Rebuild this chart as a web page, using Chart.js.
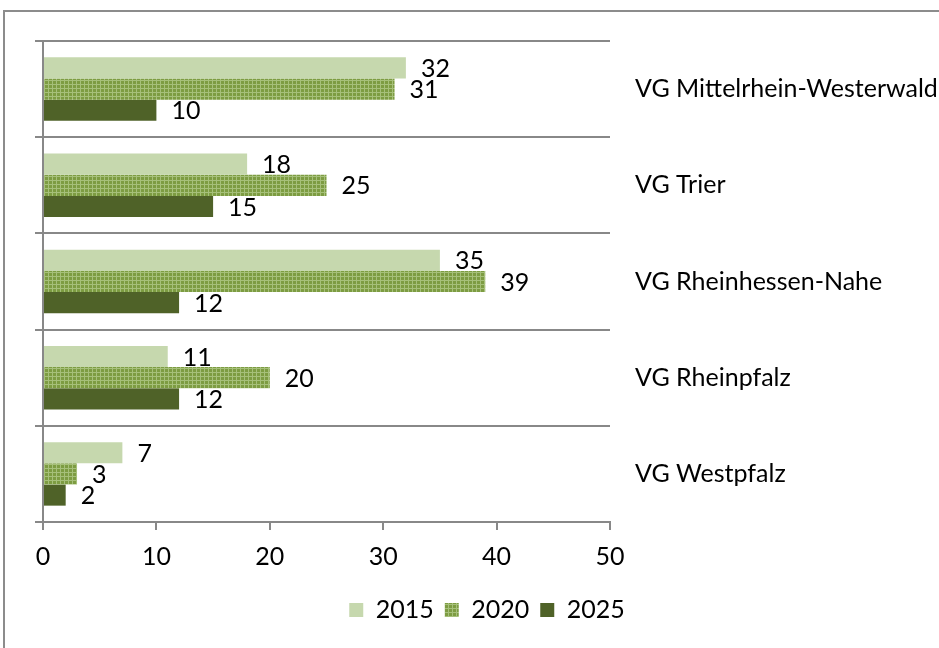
<!DOCTYPE html>
<html>
<head>
<meta charset="utf-8">
<script src="https://cdn.jsdelivr.net/npm/chart.js@4"></script>
<style>
html, body { margin: 0; padding: 0; background: #fff; overflow: hidden; }
#frame { position: absolute; left: 3px; top: 10px; width: 1000px; height: 700px;
         border-left: 2px solid #8c8c8c; border-top: 2px solid #8c8c8c; }
#wrap { position: absolute; left: 0; top: 0; width: 939px; height: 648px; }
</style>
</head>
<body>
<div id="frame"></div>
<div id="wrap"><canvas id="myChart"></canvas></div>
<script>
const regions = ['VG Mittelrhein-Westerwald', 'VG Trier', 'VG Rheinhessen-Nahe', 'VG Rheinpfalz', 'VG Westpfalz'];
const v2015 = [32, 18, 35, 11, 7];
const v2020 = [31, 25, 39, 20, 3];
const v2025 = [10, 15, 12, 12, 2];
const xMin = 0, xMax = 50, xStep = 10;

// dotted green fill for 2020
function makePattern() {
    const c = document.createElement('canvas');
    c.width = 4; c.height = 4;
    const g = c.getContext('2d');
    g.fillStyle = '#7d9c42';
    g.fillRect(0, 0, 4, 4);
    g.fillStyle = '#a6c07a';
    g.fillRect(0, 0, 4, 1);
    g.fillRect(0, 0, 1, 4);
    return g.createPattern(c, 'repeat');
}

const valueLabels = {
    id: 'valueLabels',
    afterDatasetsDraw(chart) {
        const ctx = chart.ctx;
        ctx.save();
        ctx.font = '25px Lato';
        ctx.fillStyle = '#000';
        ctx.textBaseline = 'middle';
        chart.data.datasets.forEach((ds, i) => {
            chart.getDatasetMeta(i).data.forEach((bar, j) => {
                ctx.fillText(ds.data[j], bar.x + 15, bar.y + 1);
            });
        });
        ctx.restore();
    }
};

Chart.defaults.font.family = 'Lato';
Chart.defaults.color = '#000';

const ctx = document.getElementById('myChart');
const myChart = new Chart(ctx, {
    type: 'bar',
    data: {
        labels: regions,
        datasets: [
            { label: '2015', data: v2015, backgroundColor: '#c6d8ae' },
            { label: '2020', data: v2020, backgroundColor: makePattern() },
            { label: '2025', data: v2025, backgroundColor: '#4f6228' }
        ]
    },
    options: {
        indexAxis: 'y',
        responsive: true,
        maintainAspectRatio: false,
        animation: false,
        datasets: {
            bar: { categoryPercentage: 0.66, barPercentage: 1.0, borderWidth: 0 }
        },
        layout: { padding: { left: 35, top: 41, right: 0, bottom: 15.5 } },
        plugins: {
            tooltip: { enabled: false },
            legend: {
                position: 'bottom',
                labels: { boxWidth: 14, boxHeight: 14, padding: 11, font: { size: 25 } }
            }
        },
        scales: {
            x: {
                min: xMin, max: xMax,
                ticks: { stepSize: xStep, font: { size: 25 }, padding: 12 },
                grid: { drawOnChartArea: false, color: '#888', lineWidth: 2, tickLength: 8 },
                border: { color: '#888', width: 2 },
                afterFit(a) { a.height = 64.5; }
            },
            y: {
                position: 'right',
                offset: true,
                grid: { display: false, drawTicks: false },
                border: { display: false },
                ticks: { font: { size: 25 }, crossAlign: 'near', padding: 25 },
                afterFit(a) { a.width = 329; }
            },
            yl: {
                type: 'category',
                position: 'left',
                offset: true,
                grid: { offset: true, color: '#888', lineWidth: 2, tickLength: 8 },
                border: { color: '#888', width: 2 },
                ticks: { display: false },
                afterFit(a) { a.width = 8; }
            }
        }
    },
    plugins: [valueLabels]
});
</script>
</body>
</html>
